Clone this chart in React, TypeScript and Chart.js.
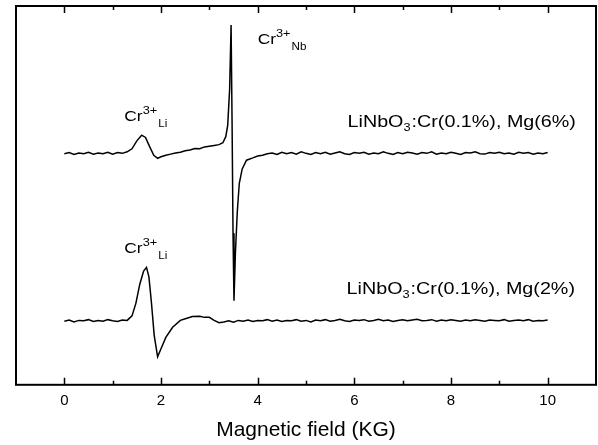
import React, { useEffect, useRef } from "react";
import { Chart, registerables } from "chart.js";

Chart.register(...registerables);

// ---- data (magnetic field in KG, signal in arbitrary units) ----
const headField = [0.0, 0.1, 0.2, 0.3, 0.4, 0.5, 0.6, 0.7, 0.8, 0.9, 1.0, 1.1, 1.2, 1.3];
const tailField = [
  4.3, 4.4, 4.5, 4.6, 4.7, 4.8, 4.9, 5.0, 5.1, 5.2,
  5.3, 5.4, 5.5, 5.6, 5.7, 5.8, 5.9, 6.0, 6.1, 6.2,
  6.3, 6.4, 6.5, 6.6, 6.7, 6.8, 6.9, 7.0, 7.1, 7.2,
  7.3, 7.4, 7.5, 7.6, 7.7, 7.8, 7.9, 8.0, 8.1, 8.2,
  8.3, 8.4, 8.5, 8.6, 8.7, 8.8, 8.9, 9.0, 9.1, 9.2,
  9.3, 9.4, 9.5, 9.6, 9.7, 9.8, 9.9, 10.0,
];

// Mg(6%) trace
const mg6Head = [61.0, 61.3, 60.8, 61.2, 61.0, 61.4, 60.9, 61.2, 61.0, 61.4, 60.9, 61.3, 61.1, 61.5];
const mg6MidField = [
  1.4, 1.5, 1.6, 1.68, 1.76, 1.85, 1.93, 2.0, 2.1, 2.2, 2.3, 2.4, 2.5, 2.6, 2.7, 2.8, 2.9, 3.0,
  3.1, 3.2, 3.28, 3.34, 3.38, 3.42, 3.45, 3.47, 3.49, 3.51, 3.54, 3.58, 3.62, 3.68, 3.77, 3.9,
  4.0, 4.1, 4.2,
];
const mg6Mid = [
  62.3, 64.4, 65.9, 65.3, 63.0, 60.6, 59.8, 60.2, 60.6, 60.9, 61.2, 61.4, 61.8, 62.0, 62.4, 62.3, 62.8, 63.0,
  63.2, 63.4, 63.9, 65.5, 68.5, 78.0, 95.0, 70.0, 40.0, 22.2, 35.0, 46.0, 53.2, 57.0, 59.3, 59.9,
  60.4, 60.6, 61.0,
];
const mg6Tail = [
  61.2, 60.8, 61.4, 61.0, 61.3, 60.9, 61.5, 61.1, 60.8, 61.3,
  61.0, 61.4, 60.9, 61.2, 61.5, 61.0, 60.8, 61.3, 61.1, 61.4,
  60.9, 61.2, 61.0, 61.5, 61.1, 60.8, 61.3, 61.0, 61.4, 61.2,
  60.9, 61.3, 61.1, 61.5, 60.9, 61.2, 61.0, 61.4, 61.1, 60.8,
  61.3, 61.2, 61.5, 61.0, 60.9, 61.3, 61.1, 61.4, 61.0, 61.2,
  60.9, 61.4, 61.1, 61.3, 60.9, 61.2, 61.0, 61.3,
];

// Mg(2%) trace
const mg2Head = [16.8, 17.1, 16.6, 17.0, 16.9, 17.2, 16.7, 17.0, 16.8, 17.2, 16.9, 16.7, 17.1, 17.0];
const mg2MidField = [
  1.4, 1.48, 1.56, 1.64, 1.7, 1.75, 1.8, 1.86, 1.93, 2.0, 2.1, 2.24, 2.4, 2.52, 2.65, 2.8, 2.9,
  3.0, 3.1, 3.2, 3.3, 3.4, 3.5, 3.6, 3.7, 3.8, 3.9, 4.0, 4.1, 4.2,
];
const mg2Mid = [
  18.2, 21.5, 26.5, 30.0, 31.0, 28.5, 22.0, 13.0, 7.4, 9.5, 12.5, 15.2, 17.0, 17.5, 18.0, 18.1, 17.8,
  17.8, 17.0, 16.4, 16.6, 16.9, 16.5, 17.0, 16.8, 17.1, 16.7, 17.0, 16.9, 17.2,
];
const mg2Tail = [
  16.8, 17.1, 16.7, 17.0, 16.9, 17.2, 16.8, 17.0, 16.6, 17.1,
  16.9, 17.2, 16.8, 17.0, 17.3, 16.9, 16.7, 17.1, 17.0, 17.2,
  16.8, 17.0, 17.3, 16.9, 17.1, 16.7, 17.0, 17.2, 16.9, 17.1,
  17.3, 16.9, 17.0, 17.2, 16.8, 17.1, 16.9, 17.2, 17.0, 16.8,
  17.1, 16.9, 17.2, 17.0, 16.8, 17.1, 17.0, 16.9, 17.2, 16.8,
  17.0, 17.1, 16.9, 17.2, 16.8, 17.0, 16.9, 17.1,
];

const majorTicks = [0, 2, 4, 6, 8, 10];
const minorTicks = [1, 3, 5, 7, 9];
const xTitle = "Magnetic field (KG)";

// annotation labels: [field, signal, parts(text, fontSize, baselineShift)]
type Part = [string, number, number];
const labels: { x: number; y: number; parts: Part[] }[] = [
  { x: 1.24, y: 69.6, parts: [["Cr", 15, 0], ["3+", 11, -7], ["Li", 10, 6]] },
  { x: 1.24, y: 34.9, parts: [["Cr", 15, 0], ["3+", 11, -7], ["Li", 10, 6]] },
  { x: 4.0, y: 89.9, parts: [["Cr", 15, 0], ["3+", 11, -7], ["Nb", 10, 6]] },
  { x: 5.86, y: 68.0, parts: [["LiNbO", 17, 0], ["3", 11, 4], [":Cr(0.1%), Mg(6%)", 17, 0]] },
  { x: 5.84, y: 24.1, parts: [["LiNbO", 17, 0], ["3", 11, 4], [":Cr(0.1%), Mg(2%)", 17, 0]] },
];

const FONT = '"Liberation Sans", Arial, Helvetica, sans-serif';

function toPoints(fields: number[], values: number[]) {
  return fields.map((f, i) => ({ x: f, y: values[i] }));
}

const framePlugin = {
  id: "frameAndLabels",
  afterDraw(chart: any) {
    const { ctx, chartArea } = chart;
    const xs = chart.scales.x;
    const ys = chart.scales.y;
    ctx.save();
    ctx.strokeStyle = "#000";
    ctx.lineWidth = 2;
    ctx.strokeRect(chartArea.left, chartArea.top, chartArea.right - chartArea.left, chartArea.bottom - chartArea.top);
    ctx.lineWidth = 1.5;
    const drawTick = (v: number, len: number) => {
      const px = Math.round(xs.getPixelForValue(v)) + 0.5;
      ctx.beginPath();
      ctx.moveTo(px, chartArea.bottom);
      ctx.lineTo(px, chartArea.bottom - len);
      ctx.moveTo(px, chartArea.top);
      ctx.lineTo(px, chartArea.top + len);
      ctx.stroke();
    };
    majorTicks.forEach((v) => drawTick(v, 7));
    minorTicks.forEach((v) => drawTick(v, 4));

    ctx.fillStyle = "#000";
    ctx.textBaseline = "alphabetic";
    const sx = 1.16;
    labels.forEach((lab) => {
      let px = xs.getPixelForValue(lab.x);
      const py = ys.getPixelForValue(lab.y);
      lab.parts.forEach(([t, size, dy]) => {
        ctx.font = `${size}px ${FONT}`;
        ctx.save();
        ctx.translate(px, py + dy);
        ctx.scale(sx, 1);
        ctx.fillText(t, 0, 0);
        ctx.restore();
        px += ctx.measureText(t).width * sx + (size < 13 ? 1 : 0);
      });
    });
    ctx.restore();
  },
};

export default function App() {
  const ref = useRef<HTMLCanvasElement | null>(null);
  useEffect(() => {
    document.body.style.margin = "0";
    const canvas = ref.current!;
    const chart = new Chart(canvas, {
      type: "scatter",
      data: {
        datasets: [
          {
            label: "Mg(6%)",
            data: toPoints([...headField, ...mg6MidField, ...tailField], [...mg6Head, ...mg6Mid, ...mg6Tail]),
            showLine: true,
            borderColor: "#000",
            borderWidth: 1.5,
            pointRadius: 0,
            tension: 0,
          },
          {
            label: "Mg(2%)",
            data: toPoints([...headField, ...mg2MidField, ...tailField], [...mg2Head, ...mg2Mid, ...mg2Tail]),
            showLine: true,
            borderColor: "#000",
            borderWidth: 1.5,
            pointRadius: 0,
            tension: 0,
          },
        ],
      },
      options: {
        animation: false,
        responsive: false,
        layout: { padding: { left: 16, right: 2, top: 6, bottom: 2 } },
        plugins: { legend: { display: false }, tooltip: { enabled: false } },
        scales: {
          x: {
            type: "linear",
            min: -1,
            max: 11,
            afterBuildTicks: (scale: any) => {
              scale.ticks = majorTicks.map((v) => ({ value: v }));
            },
            grid: { display: false, drawTicks: false },
            border: { display: false },
            ticks: {
              color: "#000",
              font: { family: FONT, size: 15 },
              padding: 7,
              maxRotation: 0,
              autoSkip: false,
            },
            title: {
              display: true,
              text: xTitle,
              color: "#000",
              font: { family: FONT, size: 21 },
              padding: { top: 1, bottom: 0 },
            },
          },
          y: {
            type: "linear",
            min: 0,
            max: 100,
            display: false,
          },
        },
      },
      plugins: [framePlugin],
    });
    return () => chart.destroy();
  }, []);
  return <canvas ref={ref} width={598} height={445} style={{ display: "block" }} />;
}
